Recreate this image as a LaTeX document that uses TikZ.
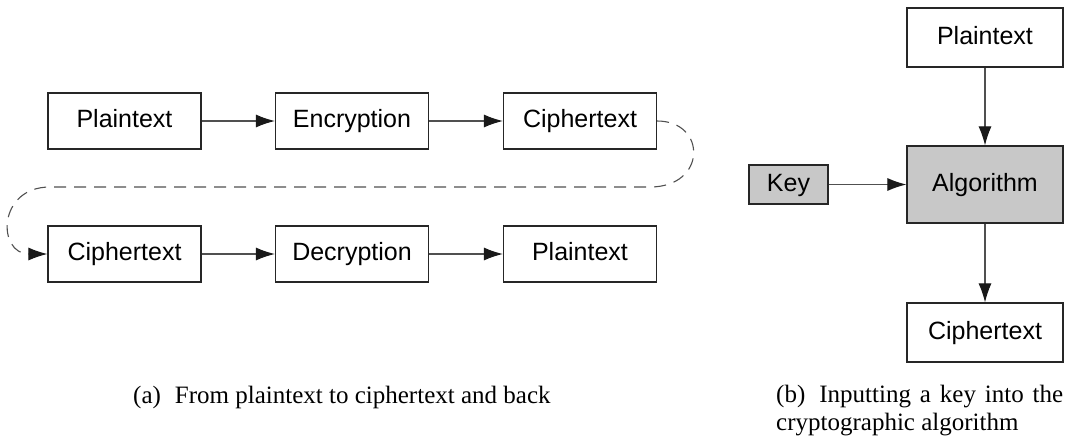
\documentclass[tikz,border=0pt]{standalone}
\usepackage{fontspec}
\setmainfont{Liberation Sans}
\newfontfamily\capfont{Liberation Serif}
\usetikzlibrary{arrows.meta}
\definecolor{boxgray}{RGB}{200,200,200}
\definecolor{linegray}{RGB}{80,80,80}
\tikzset{
  box/.style={draw=black!85, line width=1.2pt, inner sep=0pt, minimum width=153pt, minimum height=56pt, text height=18pt, text depth=5pt, font=\fontsize{25}{30}\selectfont},
  rbox/.style={box, minimum width=156pt, minimum height=59pt},
  conn/.style={draw=linegray, line width=1.1pt, -{Latex[length=19pt,width=13pt,color=black!90]}},
  dconn/.style={conn, dash pattern=on 12pt off 8pt},
  caption/.style={inner sep=0pt, font=\capfont\fontsize{25}{28}\selectfont},
}
\begin{document}
\begin{tikzpicture}[x=1pt,y=-1pt]
\useasboundingbox (0,0) rectangle (1067,440);
% (a)
\node[box] (p1) at (124.5,121) {Plaintext};
\node[box] (enc) at (352,121) {Encryption};
\node[box] (c1) at (580,121) {Ciphertext};
\node[box] (c2) at (124.5,254) {Ciphertext};
\node[box] (dec) at (352,254) {Decryption};
\node[box] (p2) at (580,254) {Plaintext};
\draw[conn] (p1) -- (enc);
\draw[conn] (enc) -- (c1);
\draw[conn] (c2) -- (dec);
\draw[conn] (dec) -- (p2);
\coordinate (r1) at (650,187);
\coordinate (l1) at (50,187);
\draw[dconn] (c1.east) .. controls (707,121) and (707,187) .. (r1) -- (l1) .. controls (-3,187) and (-3,254) .. (c2.west);
% (b)
\node[rbox] (pb) at (985,37.5) {Plaintext};
\node[rbox, fill=boxgray, minimum height=77pt] (alg) at (985,184.5) {Algorithm};
\node[rbox] (cb) at (985,332.5) {Ciphertext};
\node[box, fill=boxgray, minimum width=79pt, minimum height=39pt] (key) at (788.5,184.5) {Key};
\draw[conn] (pb) -- (alg);
\draw[conn] (alg) -- (cb);
\draw[conn] (key) -- (alg);
% captions
\node[caption, anchor=base west] (capa) at (133,403) {(a)\hspace{14pt}From plaintext to ciphertext and back};
\node[caption, anchor=base west] (capb) at (776,402) {\parbox[t]{287pt}{\fontsize{25}{28}\selectfont (b)\hspace{14pt}Inputting a key into the\linebreak cryptographic algorithm}};
\end{tikzpicture}
\end{document}
